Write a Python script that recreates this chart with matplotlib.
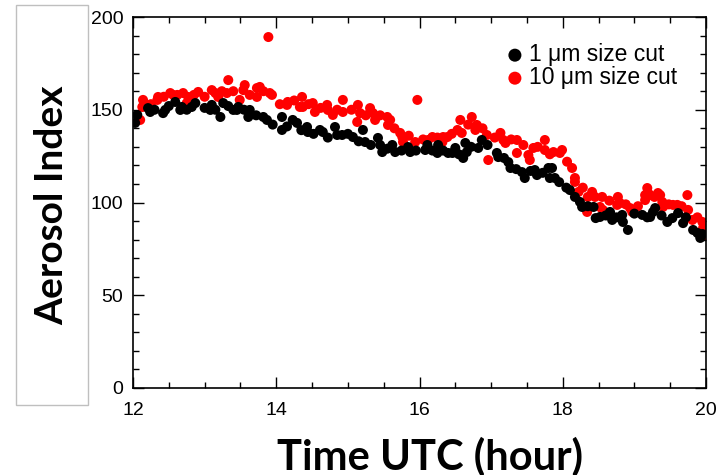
import matplotlib
matplotlib.use("Agg")
import matplotlib.pyplot as plt
from matplotlib.patches import Rectangle
from matplotlib.ticker import MultipleLocator

# ---- data ----
black_time = [12.03, 12.06, 12.21, 12.24, 12.42, 12.45, 12.59, 12.66, 12.68, 12.82,
              12.87, 13.08, 13.10, 13.22, 13.26, 13.40, 13.45, 13.47, 13.61, 13.63,
              13.82, 13.87, 14.08, 14.08, 14.23, 14.29, 14.43, 14.44, 14.61, 14.65,
              14.82, 14.85, 14.92, 15.07, 15.21, 15.24, 15.42, 15.45, 15.48, 15.62,
              15.66, 15.84, 15.87, 16.08, 16.11, 16.25, 16.26, 16.40, 16.46, 16.50,
              16.61, 16.64, 16.66, 16.82, 16.87, 17.08, 17.10, 17.24, 17.27, 17.43,
              17.47, 17.61, 17.64, 17.80, 17.82, 17.85, 17.89, 18.10, 18.24, 18.27,
              18.43, 18.46, 18.52, 18.66, 18.69, 18.83, 18.84, 18.91, 19.11, 19.22,
              19.26, 19.29, 19.46, 19.53, 19.61, 19.68, 19.82, 19.88, 19.92,
              12.30, 12.50, 12.75, 13.00, 13.15, 13.33, 13.55, 13.72, 13.95, 14.15,
              14.35, 14.52, 14.72, 15.00, 15.15, 15.32, 15.55, 15.75, 15.95, 16.18,
              16.33, 16.55, 16.72, 16.95, 17.18, 17.35, 17.55, 17.72, 17.95, 18.05,
              18.17, 18.35, 18.60, 18.75, 19.00, 19.18, 19.38, 19.72, 19.95]
black_ai = [142.9, 147.2, 150.9, 148.8, 148.2, 149.9, 154.2, 149.9, 151.5, 151.5,
            153.6, 149.9, 152.6, 146.1, 153.6, 149.9, 149.9, 151.5, 146.1, 149.9,
            146.1, 144.5, 146.1, 139.1, 144.5, 142.9, 140.7, 138.0, 139.1, 138.0,
            140.7, 136.4, 136.4, 135.3, 139.1, 132.6, 134.8, 131.0, 127.2, 131.0,
            127.2, 129.9, 127.2, 128.3, 131.0, 126.7, 131.0, 126.7, 126.7, 129.4,
            124.0, 132.1, 127.2, 129.4, 133.7, 126.7, 124.5, 121.8, 118.6, 116.4,
            113.2, 117.5, 114.8, 118.6, 113.2, 118.6, 113.2, 106.7, 100.3, 97.6,
            97.6, 91.6, 92.2, 94.9, 90.6, 93.3, 89.5, 85.2, 93.3, 92.2,
            94.9, 97.0, 89.5, 91.6, 94.3, 88.9, 85.2, 83.6, 80.9,
            150.0, 152.0, 150.0, 151.0, 150.0, 152.0, 150.0, 147.0, 142.0, 141.0,
            139.0, 137.0, 135.0, 137.0, 133.0, 131.0, 129.0, 128.0, 128.0, 128.0,
            128.0, 126.0, 130.0, 131.0, 124.0, 118.0, 117.0, 116.0, 111.0, 108.0,
            103.0, 98.0, 93.0, 92.0, 94.0, 92.0, 93.0, 92.0, 83.0]

red_time = [12.10, 12.13, 12.14, 12.34, 12.35, 12.52, 12.56, 12.70, 12.75, 12.77,
            12.91, 13.10, 13.15, 13.19, 13.31, 13.33, 13.49, 13.54, 13.56, 13.73,
            13.73, 13.77, 13.89, 13.91, 13.94, 14.15, 14.16, 14.33, 14.36, 14.37,
            14.51, 14.54, 14.71, 14.72, 14.79, 14.93, 14.93, 15.13, 15.14, 15.17,
            15.31, 15.35, 15.38, 15.55, 15.56, 15.59, 15.73, 15.76, 15.77, 15.94,
            15.97, 16.12, 16.18, 16.32, 16.33, 16.39, 16.53, 16.57, 16.59, 16.73,
            16.78, 16.80, 16.94, 16.96, 17.13, 17.17, 17.20, 17.36, 17.36, 17.52,
            17.54, 17.59, 17.75, 17.75, 17.87, 17.96, 17.99, 18.13, 18.17, 18.17,
            18.22, 18.34, 18.35, 18.41, 18.52, 18.55, 18.56, 18.76, 18.77, 18.80,
            18.94, 18.97, 19.15, 19.15, 19.18, 19.19, 19.22, 19.33, 19.36, 19.39,
            19.40, 19.54, 19.60, 19.74, 19.75, 19.81, 19.95, 19.96, 19.99,
            12.25, 12.43, 12.62, 12.85, 13.00, 13.24, 13.40, 13.63, 13.82, 14.05,
            14.25, 14.45, 14.62, 14.85, 15.05, 15.25, 15.45, 15.65, 15.85, 16.05,
            16.25, 16.45, 16.68, 16.88, 17.05, 17.28, 17.45, 17.65, 17.82, 18.06,
            18.28, 18.45, 18.65, 18.88, 19.05, 19.28, 19.48, 19.66, 19.88]
red_ai = [144.5, 151.5, 155.3, 155.3, 156.9, 159.0, 158.0, 159.0, 153.6, 156.9,
          159.6, 160.6, 159.0, 156.9, 159.0, 166.0, 155.3, 160.6, 163.3, 161.7,
          156.9, 162.3, 189.2, 159.0, 158.0, 152.6, 154.2, 151.5, 156.9, 151.5,
          153.6, 148.8, 152.6, 149.9, 147.2, 155.3, 148.8, 143.4, 152.6, 148.2,
          150.9, 148.2, 144.5, 146.1, 141.8, 144.5, 137.5, 135.3, 132.6, 132.6,
          155.3, 133.7, 135.3, 132.6, 135.3, 135.3, 139.1, 144.5, 137.5, 146.1,
          139.1, 141.8, 136.4, 122.9, 137.5, 133.7, 132.1, 133.7, 126.7, 125.6,
          122.9, 129.4, 133.7, 128.3, 127.2, 126.7, 128.3, 118.6, 113.2, 111.1,
          105.7, 94.9, 103.0, 105.7, 97.6, 103.0, 96.0, 98.7, 103.0, 99.7,
          97.0, 94.9, 101.3, 104.0, 107.8, 105.1, 104.0, 105.1, 104.0, 100.3,
          97.6, 98.7, 98.7, 104.0, 96.0, 90.6, 89.5, 86.3, 82.5,
          153.0, 157.0, 158.0, 158.0, 157.0, 160.0, 160.0, 158.0, 160.0, 153.0,
          155.0, 153.0, 151.0, 150.0, 150.0, 147.0, 147.0, 140.0, 136.0, 134.0,
          135.0, 137.0, 142.0, 140.0, 135.0, 134.0, 131.0, 130.0, 126.0, 122.0,
          108.0, 103.0, 101.0, 99.0, 98.0, 103.0, 99.0, 98.0, 92.0]

series_labels = ["1 \u03bcm size cut", "10 \u03bcm size cut"]
x_ticks = [12, 14, 16, 18, 20]
y_ticks = [0, 50, 100, 150, 200]

# ---- figure ----
fig = plt.figure(figsize=(7.19, 4.75), dpi=100)
fig.patch.set_facecolor("white")
ax = fig.add_axes([133/719, 1 - 388/475, (706-133)/719, (388-17)/475])

ax.scatter(black_time, black_ai, s=52, color="black", edgecolors="none", zorder=3,
           label=series_labels[0])
ax.scatter(red_time, red_ai, s=52, color="#ff0000", edgecolors="none", zorder=2,
           label=series_labels[1])

ax.set_xlim(12, 20)
ax.set_ylim(0, 200)
ax.set_xticks(x_ticks)
ax.set_yticks(y_ticks)
ax.xaxis.set_minor_locator(MultipleLocator(0.5))
ax.yaxis.set_minor_locator(MultipleLocator(10))
ax.tick_params(which="both", direction="in", top=True, right=True, color="black",
               width=1.0, labelsize=14, pad=7)
ax.tick_params(axis="x", pad=10)
ax.tick_params(which="major", length=8)
ax.tick_params(which="minor", length=4)
for lab in ax.get_xticklabels() + ax.get_yticklabels():
    lab.set_fontfamily("Liberation Sans")
for sp in ax.spines.values():
    sp.set_linewidth(1.2)

leg = ax.legend(loc="upper right", bbox_to_anchor=(0.985, 0.985), frameon=False,
                handletextpad=0.1, labelspacing=0.0, borderaxespad=0.5,
                markerscale=1.3, handlelength=1.0,
                prop={"family": "Liberation Sans", "size": 16.5})

# y-label box
fig.patches.append(Rectangle((16/719, 1 - 405/475), (88-16)/719, (405-5)/475,
                             transform=fig.transFigure, facecolor="white",
                             edgecolor="#bfbfbf", linewidth=1.0, zorder=0))
fig.text(52/719, 1 - 205/475, "Aerosol Index", rotation=90, ha="center",
         va="center", fontsize=28, fontweight="bold", family="Lato")
fig.text(430/719, 1 - 456/475, "Time UTC (hour)", ha="center", va="center",
         fontsize=30, fontweight="bold", family="Lato")

fig.savefig("out.png", dpi=100)
